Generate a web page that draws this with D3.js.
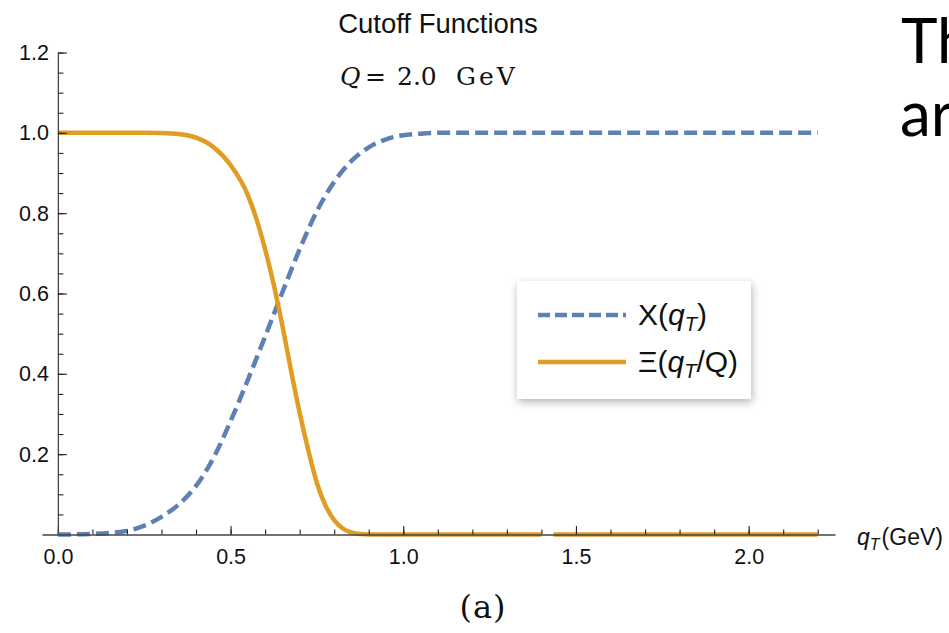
<!DOCTYPE html>
<html>
<head>
<meta charset="utf-8">
<script src="https://cdn.jsdelivr.net/npm/d3@7"></script>
<style>
  html, body { margin: 0; padding: 0; background: #fff; overflow: hidden; }
  svg { display: block; }
</style>
</head>
<body>
<script>
// Ξ(qT/Q), solid orange
const xiQt = [0, 0.1, 0.2, 0.25, 0.3, 0.35, 0.4, 0.45, 0.5, 0.55, 0.575, 0.6, 0.625, 0.65, 0.675, 0.7, 0.725, 0.75, 0.775, 0.8, 0.825, 0.85, 0.875, 0.9, 1.0, 1.2, 1.4, 1.42, 1.435, 1.6, 1.8, 2.0, 2.2];
const xiVals = [1, 1, 1, 1, 0.9995, 0.997, 0.988, 0.965, 0.92, 0.845, 0.785, 0.71, 0.622, 0.52, 0.408, 0.303, 0.21, 0.128, 0.072, 0.036, 0.015, 0.005, 0.001, 0, 0, 0, 0, null, 0, 0, 0, 0, 0];

// X(qT), dashed blue
const chiQt = [0, 0.05, 0.1, 0.15, 0.2, 0.25, 0.3, 0.35, 0.4, 0.45, 0.5, 0.55, 0.6, 0.65, 0.7, 0.75, 0.8, 0.85, 0.9, 0.95, 1.0, 1.05, 1.1, 1.2, 1.4, 1.6, 1.8, 2.0, 2.2];
const chiVals = [0, 0.0003, 0.0015, 0.004, 0.009, 0.022, 0.044, 0.075, 0.121, 0.19, 0.282, 0.385, 0.493, 0.603, 0.71, 0.805, 0.878, 0.93, 0.964, 0.984, 0.994, 0.998, 1, 1, 1, 1, 1, 1, 1];

const xMajor = [0, 0.5, 1.0, 1.5, 2.0];
const xMinor = d3.range(0, 2.25, 0.1);
const yMajor = [0.2, 0.4, 0.6, 0.8, 1.0, 1.2];
const yMinor = d3.range(0.05, 1.21, 0.05);

const width = 949;
const height = 633;
const blue = "#5e81b5";
const orange = "#e19c24";
const axisColor = "#444";
const sans = "'Liberation Sans', Arial, sans-serif";
const serif = "'DejaVu Serif', 'Liberation Serif', serif";

const svg = d3.select("body").append("svg")
  .attr("width", width)
  .attr("height", height);

const defs = svg.append("defs");
const shadow = defs.append("filter").attr("id", "shadow")
  .attr("x", "-20%").attr("y", "-20%").attr("width", "140%").attr("height", "150%");
shadow.append("feDropShadow")
  .attr("dx", 1).attr("dy", 3).attr("stdDeviation", 4)
  .attr("flood-color", "#000").attr("flood-opacity", 0.3);

const x = d3.scaleLinear().domain([-0.046, 2.25]).range([42, 835]);
const y = d3.scaleLinear().domain([0, 1.2]).range([534.5, 52.5]);

// curves
const line = d3.line()
  .defined(d => d[1] !== null)
  .x(d => x(d[0]))
  .y(d => y(d[1]))
  .curve(d3.curveMonotoneX);

svg.append("path")
  .datum(chiQt.map((q, i) => [q, chiVals[i]]))
  .attr("d", line)
  .attr("fill", "none")
  .attr("stroke", blue)
  .attr("stroke-width", 4.5)
  .attr("stroke-dasharray", "13,6");

svg.append("path")
  .datum(xiQt.map((q, i) => [q, xiVals[i]]))
  .attr("d", line)
  .attr("fill", "none")
  .attr("stroke", orange)
  .attr("stroke-width", 4.5);

// axes, drawn over the curves
const xAxisMinor = svg.append("g")
  .attr("transform", "translate(0," + y(0) + ")")
  .call(d3.axisBottom(x).tickValues(xMinor).tickFormat("").tickSizeInner(-5).tickSizeOuter(0));
xAxisMinor.select(".domain").remove();

const xAxis = svg.append("g")
  .attr("transform", "translate(0," + y(0) + ")")
  .call(d3.axisBottom(x).tickValues(xMajor).tickFormat(d3.format(".1f"))
    .tickSizeInner(-8.5).tickSizeOuter(0).tickPadding(14));

const yAxisMinor = svg.append("g")
  .attr("transform", "translate(" + x(0) + ",0)")
  .call(d3.axisLeft(y).tickValues(yMinor).tickFormat("").tickSizeInner(-5.5).tickSizeOuter(0));
yAxisMinor.select(".domain").remove();

const yAxis = svg.append("g")
  .attr("transform", "translate(" + x(0) + ",0)")
  .call(d3.axisLeft(y).tickValues(yMajor).tickFormat(d3.format(".1f"))
    .tickSizeInner(-9).tickSizeOuter(0).tickPadding(9));

svg.selectAll(".domain").attr("stroke", axisColor).attr("stroke-width", 1.3);
svg.selectAll(".tick line").attr("stroke", "#222").attr("stroke-width", 1.1);
svg.selectAll(".tick text")
  .attr("fill", "#111")
  .style("font-family", sans)
  .style("font-size", "21.5px");

// axis label
const xLabel = svg.append("text")
  .attr("x", 857).attr("y", 545)
  .attr("fill", "#111")
  .style("font-family", sans)
  .style("font-size", "23px");
xLabel.append("tspan").attr("font-style", "italic").text("q");
xLabel.append("tspan").attr("font-style", "italic").attr("font-size", "16px").attr("dy", 5).text("T");
xLabel.append("tspan").attr("dy", -5).attr("dx", 2).text("(GeV)");

// titles
svg.append("text")
  .attr("x", 438).attr("y", 33)
  .attr("text-anchor", "middle")
  .attr("fill", "#111")
  .style("font-family", sans)
  .style("font-size", "27.5px")
  .text("Cutoff Functions");

const qLine = svg.append("text")
  .attr("y", 85)
  .attr("fill", "#111")
  .style("font-family", serif)
  .style("font-size", "25px");
qLine.append("tspan").attr("x", 340).attr("font-style", "italic").text("Q");
qLine.append("tspan").attr("x", 365).text("=");
qLine.append("tspan").attr("x", 397).text("2.0");
qLine.append("tspan").attr("x", 456).attr("letter-spacing", "3px").text("GeV");

svg.append("text")
  .attr("x", 483).attr("y", 618)
  .attr("text-anchor", "middle")
  .attr("fill", "#111")
  .style("font-family", serif)
  .style("font-size", "32px")
  .attr("letter-spacing", "1px")
  .text("(a)");

// legend
const legend = svg.append("g");
legend.append("rect")
  .attr("x", 517).attr("y", 281)
  .attr("width", 234).attr("height", 118)
  .attr("fill", "#fff")
  .attr("filter", "url(#shadow)");

const legendItems = [
  { color: blue, dash: "12,5", label: "X", tail: ")" },
  { color: orange, dash: null, label: "\u039E", tail: "/Q)" }
];

legendItems.forEach((item, i) => {
  const cy = 315 + i * 47;
  legend.append("line")
    .attr("x1", 538).attr("x2", 626)
    .attr("y1", cy).attr("y2", cy)
    .attr("stroke", item.color)
    .attr("stroke-width", 4.5)
    .attr("stroke-dasharray", item.dash);
  const t = legend.append("text")
    .attr("x", 638).attr("y", cy + 10)
    .attr("fill", "#111")
    .style("font-family", sans)
    .style("font-size", "30px");
  t.append("tspan").text(item.label + "(");
  t.append("tspan").attr("font-style", "italic").text("q");
  t.append("tspan").attr("font-style", "italic").attr("font-size", "20px").attr("dy", 6).text("T");
  t.append("tspan").attr("dy", -6).text(item.tail);
});

// slide text cut off at the right edge
svg.append("text")
  .attr("x", 901).attr("y", 63)
  .attr("fill", "#000")
  .style("font-family", "Lato, 'Open Sans', sans-serif")
  .style("font-size", "62px")
  .text("Th");
svg.append("text")
  .attr("x", 900).attr("y", 136)
  .attr("fill", "#000")
  .style("font-family", "Lato, 'Open Sans', sans-serif")
  .style("font-size", "62px")
  .text("ar");
</script>
</body>
</html>
